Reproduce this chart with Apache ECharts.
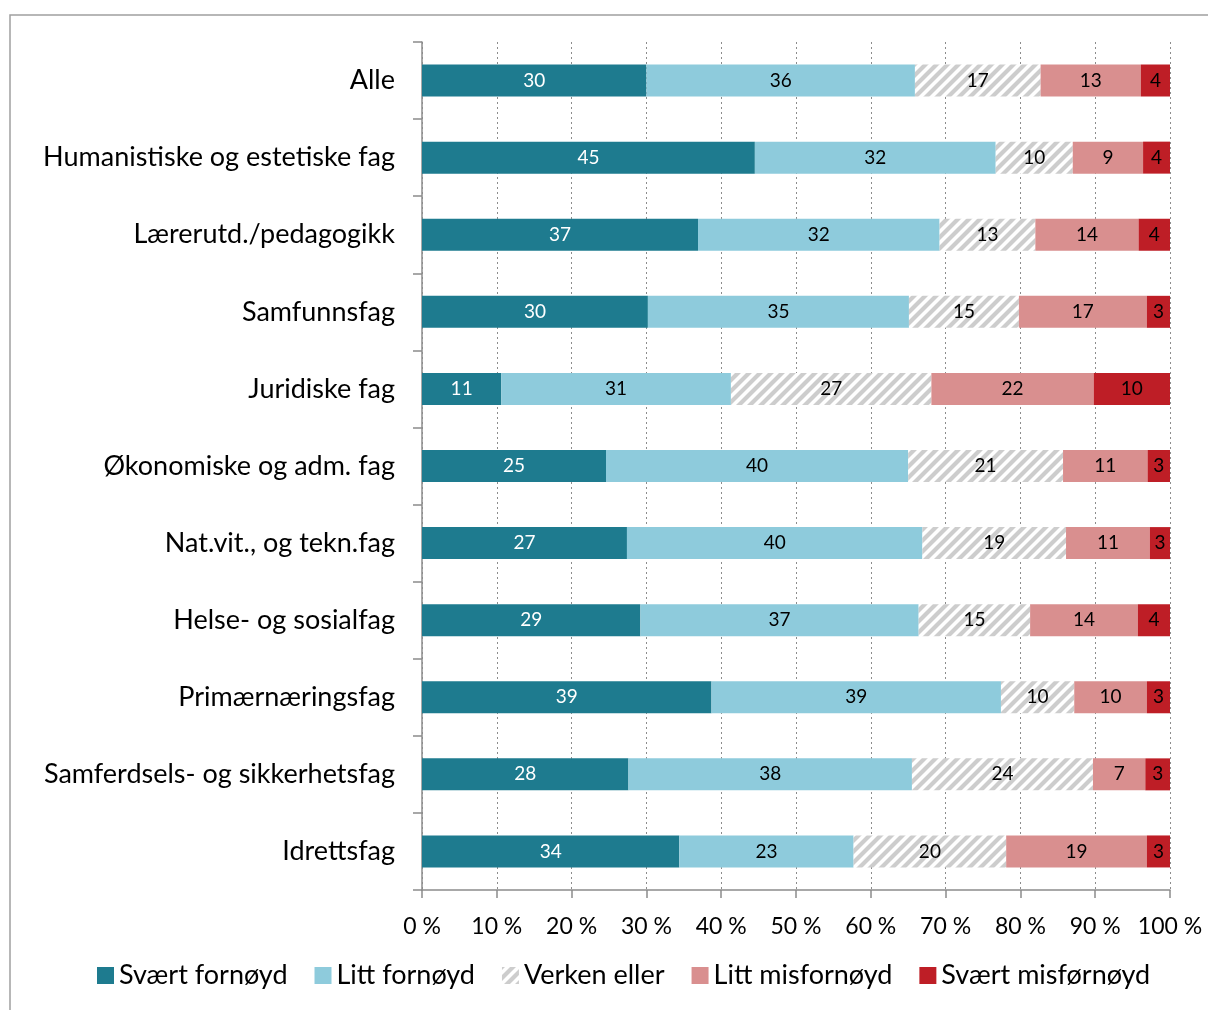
<!DOCTYPE html>
<html>
<head>
<meta charset="utf-8">
<script src="https://cdn.jsdelivr.net/npm/echarts@6/dist/echarts.min.js"></script>
<style>
html, body { margin: 0; padding: 0; background: #fff; }
#chart { width: 1208px; height: 1010px; }
</style>
</head>
<body>
<div id="chart"></div>
<script>
var categories = ['Alle', 'Humanistiske og estetiske fag', 'Lærerutd./pedagogikk', 'Samfunnsfag',
	'Juridiske fag', 'Økonomiske og adm. fag', 'Nat.vit., og tekn.fag', 'Helse- og sosialfag',
	'Primærnæringsfag', 'Samferdsels- og sikkerhetsfag', 'Idrettsfag'];
var seriesNames = ['Svært fornøyd', 'Litt fornøyd', 'Verken eller', 'Litt misfornøyd', 'Svært misførnøyd'];
var svaertFornoyd   = [30.0, 44.5, 36.9, 30.2, 10.6, 24.6, 27.4, 29.2, 38.7, 27.6, 34.4];
var littFornoyd     = [35.9, 32.2, 32.3, 34.9, 30.7, 40.4, 39.5, 37.2, 38.7, 37.9, 23.3];
var verkenEller     = [16.8, 10.3, 12.8, 14.7, 26.8, 20.7, 19.2, 14.9,  9.8, 24.2, 20.4];
var littMisfornoyd  = [13.4,  9.4, 13.8, 17.1, 21.7, 11.3, 11.2, 14.4,  9.7,  7.0, 18.8];
var svaertMisfornoyd= [ 3.9,  3.6,  4.2,  3.1, 10.2,  3.0,  2.7,  4.3,  3.1,  3.3,  3.1];
var xTickLabels = ['0 %', '10 %', '20 %', '30 %', '40 %', '50 %', '60 %', '70 %', '80 %', '90 %', '100 %'];

// white with grey diagonal stripes for "Verken eller"
function stripes() {
	var c = document.createElement('canvas');
	c.width = 11; c.height = 11;
	var ctx = c.getContext('2d');
	ctx.fillStyle = '#fff';
	ctx.fillRect(0, 0, 11, 11);
	ctx.strokeStyle = '#cdcdcd';
	ctx.lineWidth = 4.2;
	ctx.beginPath();
	ctx.moveTo(-5.5, 5.5); ctx.lineTo(5.5, -5.5);
	ctx.moveTo(-5.5, 16.5); ctx.lineTo(16.5, -5.5);
	ctx.moveTo(5.5, 16.5); ctx.lineTo(16.5, 5.5);
	ctx.stroke();
	return c;
}

var font = 'Lato';
var dom = document.getElementById('chart');
var myChart = echarts.init(dom);
var colors = ['#1e7b8f', '#8ecbdc', {image: stripes(), repeat: 'repeat'}, '#d98f8f', '#be1e26'];
var labelColors = ['#fff', '#000', '#000', '#000', '#000'];
var allData = [svaertFornoyd, littFornoyd, verkenEller, littMisfornoyd, svaertMisfornoyd];

var series = [];
for (var i = 0; i < seriesNames.length; i++) {
	series.push({
		name: seriesNames[i],
		type: 'bar',
		stack: 'total',
		barWidth: 32,
		data: allData[i],
		itemStyle: {color: colors[i]},
		label: {
			show: true,
			position: 'inside',
			color: labelColors[i],
			fontFamily: font,
			fontSize: 19,
			formatter: function (p) { return Math.round(p.value); }
		}
	});
}

var option = {
	animation: false,
	textStyle: {fontFamily: font},
	graphic: [{
		type: 'rect',
		shape: {x: 10, y: 15, width: 1220, height: 1020},
		style: {fill: 'none', stroke: '#a0a0a0', lineWidth: 1.5},
		silent: true
	}],
	legend: {
		bottom: 16,
		left: 92,
		icon: 'rect',
		itemWidth: 17,
		itemHeight: 17,
		itemGap: 27,
		textStyle: {fontFamily: font, fontSize: 27, color: '#000'},
		data: seriesNames
	},
	grid: {left: 422, right: 38, top: 42, bottom: 120},
	xAxis: {
		type: 'value',
		min: 0,
		max: 100,
		interval: 10,
		axisLine: {show: true, lineStyle: {color: '#8c8c8c', width: 1.5}},
		axisTick: {show: true, length: 8, lineStyle: {color: '#8c8c8c', width: 1.5}},
		splitLine: {show: true, lineStyle: {color: '#8c8c8c', type: [2, 3], width: 1}},
		axisLabel: {
			fontFamily: font, fontSize: 23, color: '#000', margin: 25,
			formatter: function (v) { return xTickLabels[v / 10]; }
		}
	},
	yAxis: {
		type: 'category',
		inverse: true,
		data: categories,
		axisLine: {show: true, lineStyle: {color: '#8c8c8c', width: 1.5}},
		axisTick: {show: true, length: 9, lineStyle: {color: '#8c8c8c', width: 1.5}},
		axisLabel: {fontFamily: font, fontSize: 27, color: '#000', margin: 27}
	},
	series: series
};
myChart.setOption(option, true);
</script>
</body>
</html>
